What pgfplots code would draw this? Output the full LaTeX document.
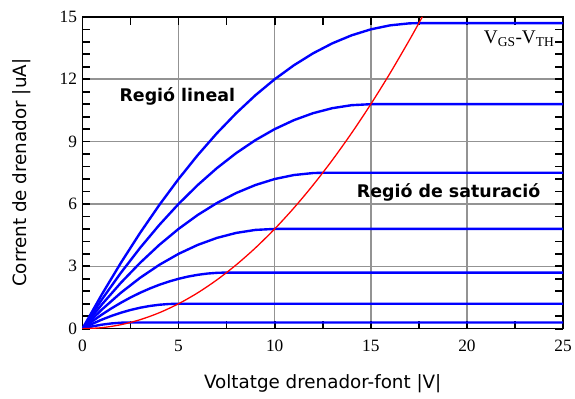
\documentclass[border=0pt]{standalone}
\usepackage{pgfplots}
\pgfplotsset{compat=1.18}
\usepackage{fontspec}
\setmainfont{Liberation Serif}
\newfontfamily\labfont{DejaVu Sans}
\begin{document}
\begin{tikzpicture}
\begin{axis}[name=ax,
  scale only axis, width=484bp, height=314bp,
  xmin=0, xmax=25, ymin=0, ymax=15,
  xtick={0,5,...,25}, ytick={0,3,...,15},
  minor x tick num=1, minor y tick num=4,
  tick align=inside,
  major tick length=8bp, minor tick length=8bp,
  tick style={black, line width=1.7bp},
  xmajorgrids, ymajorgrids,
  major grid style={gray!85, line width=1.6bp},
  axis line style={black, line width=1.3bp},
  /pgf/number format/assume math mode=true,
  ticklabel style={font=\fontsize{17.5}{17.5}\selectfont},
  xticklabel style={yshift=-8bp},
  yticklabel style={xshift=-2bp},
  xlabel={\labfont\fontsize{18.5}{19}\selectfont Voltatge drenador-font |V|},
  ylabel={\labfont\fontsize{18.5}{19}\selectfont Corrent de drenador |uA|},
  xlabel style={at={(axis description cs:0.5,-0.175)}, anchor=center},
  ylabel style={at={(axis description cs:-0.126,0.5)}, anchor=center},
]
\addplot[blue, line width=2.4bp] coordinates {(0,0)(1,1.632)(2,3.168)(3,4.608)(4,5.952)(5,7.2)(6,8.352)(7,9.408)(8,10.368)(9,11.232)(10,12.0)(11,12.672)(12,13.248)(13,13.728)(14,14.112)(15,14.4)(16,14.592)(17,14.688)(17.5,14.7)(25,14.7)};
\addplot[blue, line width=2.4bp] coordinates {(0,0)(1,1.392)(2,2.688)(3,3.888)(4,4.992)(5,6.0)(6,6.912)(7,7.728)(8,8.448)(9,9.072)(10,9.6)(11,10.032)(12,10.368)(13,10.608)(14,10.752)(15,10.8)(25,10.8)};
\addplot[blue, line width=2.4bp] coordinates {(0,0)(1,1.152)(2,2.208)(3,3.168)(4,4.032)(5,4.8)(6,5.472)(7,6.048)(8,6.528)(9,6.912)(10,7.2)(11,7.392)(12,7.488)(12.5,7.5)(25,7.5)};
\addplot[blue, line width=2.4bp] coordinates {(0,0)(1,0.912)(2,1.728)(3,2.448)(4,3.072)(5,3.6)(6,4.032)(7,4.368)(8,4.608)(9,4.752)(10,4.8)(25,4.8)};
\addplot[blue, line width=2.4bp] coordinates {(0,0)(0.5,0.348)(1,0.672)(1.5,0.972)(2,1.248)(2.5,1.5)(3,1.728)(3.5,1.932)(4,2.112)(4.5,2.268)(5,2.4)(5.5,2.508)(6,2.592)(6.5,2.652)(7,2.688)(7.5,2.7)(25,2.7)};
\addplot[blue, line width=2.4bp] coordinates {(0,0)(0.5,0.228)(1,0.432)(1.5,0.612)(2,0.768)(2.5,0.9)(3,1.008)(3.5,1.092)(4,1.152)(4.5,1.188)(5,1.2)(25,1.2)};
\addplot[blue, line width=2.4bp] coordinates {(0,0)(0.5,0.108)(1,0.192)(1.5,0.252)(2,0.288)(2.5,0.3)(25,0.3)};
\addplot[red, line width=1.3bp, smooth] coordinates {(0,0)(1,0.048)(2,0.192)(3,0.432)(4,0.768)(5,1.2)(6,1.728)(7,2.352)(8,3.072)(9,3.888)(10,4.8)(11,5.808)(12,6.912)(13,8.112)(14,9.408)(15,10.8)(16,12.288)(17,13.872)(17.5,14.7)(17.68,15.0)};
\node[font=\labfont\bfseries\fontsize{17.6}{18}\selectfont, anchor=west] at (axis cs:1.75,11.18) {Regió lineal};
\node[font=\labfont\bfseries\fontsize{17.6}{18}\selectfont, anchor=west] at (axis cs:14.1,6.55) {Regió de saturació};
\node[font=\fontsize{19.5}{19.5}\selectfont, anchor=west, inner sep=0pt] at (axis cs:20.87,13.95) {V\textsubscript{GS}-V\textsubscript{TH}};
\end{axis}
\path (ax.south west) ++(-83bp,-70bp) coordinate (bl);
\path (ax.north east) ++(8bp,17bp) coordinate (tr);
\useasboundingbox (bl) rectangle (tr);
\end{tikzpicture}
\end{document}
